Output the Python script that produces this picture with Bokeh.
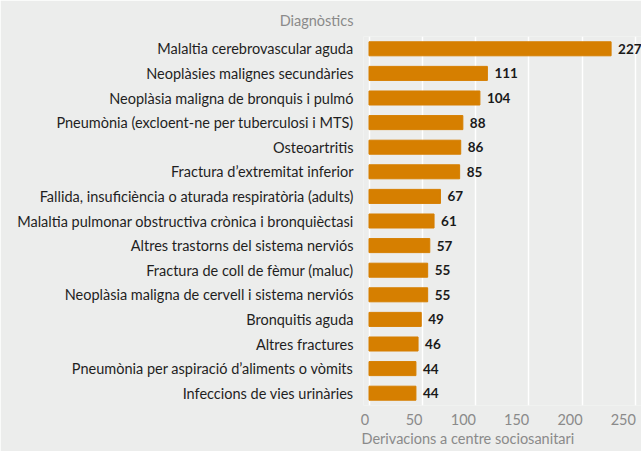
from bokeh.plotting import figure
from bokeh.models import ColumnDataSource, FactorRange, Range1d, FixedTicker, Title
from bokeh.core.properties import value
from bokeh.embed import file_html
from bokeh.resources import INLINE

categories = [
    "Malaltia cerebrovascular aguda",
    "Neoplàsies malignes secundàries",
    "Neoplàsia maligna de bronquis i pulmó",
    "Pneumònia (excloent-ne per tuberculosi i MTS)",
    "Osteoartritis",
    "Fractura d’extremitat inferior",
    "Fallida, insuficiència o aturada respiratòria (adults)",
    "Malaltia pulmonar obstructiva crònica i bronquièctasi",
    "Altres trastorns del sistema nerviós",
    "Fractura de coll de fèmur (maluc)",
    "Neoplàsia maligna de cervell i sistema nerviós",
    "Bronquitis aguda",
    "Altres fractures",
    "Pneumònia per aspiració d’aliments o vòmits",
    "Infeccions de vies urinàries",
]
values = [227, 111, 104, 88, 86, 85, 67, 61, 57, 55, 55, 49, 46, 44, 44]
x_ticks = [0, 50, 100, 150, 200, 250]
y_title = "Diagnòstics"
x_title = "Derivacions a centre sociosanitari"

BG = "#ecedec"
BAR = "#d67f00"
GRAY = "#8a8a8a"
FONT = "Lato"
FS = "14.5px"

W, H = 641, 451
LEFT = 363
ZERO_PX = 368.5
PX_PER_UNIT = 1.0665
X0 = -(ZERO_PX - LEFT) / PX_PER_UNIT
X1 = (W - ZERO_PX) / PX_PER_UNIT

src = ColumnDataSource(dict(cat=categories, val=values, lbl=[str(v) for v in values]))

p = figure(
    width=W, height=H,
    title=y_title,
    y_range=FactorRange(factors=list(reversed(categories))),
    x_range=Range1d(X0, X1),
    output_backend="svg", toolbar_location=None,
    min_border_left=LEFT, min_border_right=0, min_border_top=36, min_border_bottom=46,
)
p.background_fill_color = BG
p.border_fill_color = BG
p.outline_line_color = None

p.title.align = "right"
p.title.offset = W - 353
p.title.text_font = FONT
p.title.text_font_style = "normal"
p.title.text_font_size = FS
p.title.text_color = GRAY
p.title.standoff = 16

p.hbar(y="cat", right="val", left=0, height=0.57, color=BAR, source=src)
p.text(x="val", y="cat", text="lbl", source=src, x_offset=7,
       text_font=value(FONT), text_font_style="bold", text_font_size="13.5px",
       text_color="#1a1a1a", text_baseline="middle", text_align="left")

p.ygrid.grid_line_color = None
p.xgrid.grid_line_color = "white"
p.xgrid.grid_line_width = 1.5
p.xgrid.ticker = FixedTicker(ticks=x_ticks)

# tick labels sit right-aligned to their gridlines: shift label anchors left by half their width
char_px = 4.1
shifted = [round(t - len(str(t)) * char_px / PX_PER_UNIT, 4) for t in x_ticks]
p.xaxis.ticker = FixedTicker(ticks=shifted)
p.xaxis.major_label_overrides = {s: str(t) for s, t in zip(shifted, x_ticks)}

for ax in (p.xaxis[0], p.yaxis[0]):
    ax.axis_line_color = None
    ax.major_tick_line_color = None
    ax.minor_tick_line_color = None
    ax.major_tick_out = 0
    ax.major_tick_in = 0
    ax.major_label_text_font = FONT

p.yaxis.major_label_text_font_size = FS
p.yaxis.major_label_text_color = "#1f1f1f"
p.yaxis.major_label_standoff = 10

p.xaxis.major_label_text_font_size = FS
p.xaxis.major_label_text_color = GRAY
p.xaxis.major_label_standoff = 8

xt = Title(text=x_title, align="left", offset=361 - LEFT, standoff=0,
           text_font=FONT, text_font_style="normal", text_font_size=FS,
           text_color=GRAY)
p.add_layout(xt, "below")

open("out.html", "w").write(file_html(p, INLINE))
